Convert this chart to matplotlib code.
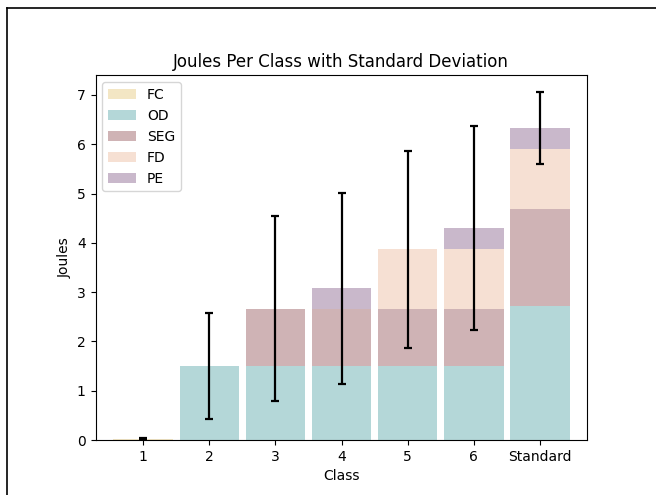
import matplotlib.pyplot as plt
import numpy as np
from matplotlib.lines import Line2D

classes = ['1', '2', '3', '4', '5', '6', 'Standard']
fc = [0.02, 0, 0, 0, 0, 0, 0]
od = [0, 1.5, 1.5, 1.5, 1.5, 1.5, 2.72]
seg = [0, 0, 1.16, 1.16, 1.16, 1.16, 1.96]
fd = [0, 0, 0, 0, 1.21, 1.21, 1.22]
pe = [0, 0, 0, 0.42, 0, 0.43, 0.43]
std = [0.02, 1.08, 1.875, 1.935, 2.0, 2.07, 0.73]

series = [('FC', fc, '#F3E6C4'), ('OD', od, '#B4D7D8'), ('SEG', seg, '#CFB3B5'),
          ('FD', fd, '#F6E0D3'), ('PE', pe, '#C9B8CB')]

fig = plt.figure(figsize=(6.56, 4.95), dpi=100)
ax = fig.add_axes([0.1456, 0.111, 0.7492, 0.737])

x = np.arange(len(classes))
bottom = np.zeros(len(classes))
for name, vals, color in series:
    ax.bar(x, vals, width=0.9, bottom=bottom, color=color, label=name)
    bottom += np.array(vals)

ax.errorbar(x, bottom, yerr=std, fmt='none', ecolor='black', capsize=3, elinewidth=1.6, capthick=1.6)

ax.set_xticks(x)
ax.set_xticklabels(classes)
ax.set_xlim(-0.72, 6.71)
ax.set_ylim(0, 7.4)
ax.set_xlabel('Class')
ax.set_ylabel('Joules')
ax.set_title('Joules Per Class with Standard Deviation')
ax.legend(loc='upper left')

# screenshot frame
fig.add_artist(Line2D([0.011, 0.011], [0, 0.984], color='black', lw=1.2, transform=fig.transFigure))
fig.add_artist(Line2D([0.011, 1], [0.984, 0.984], color='black', lw=1.2, transform=fig.transFigure))

fig.savefig('out.png', dpi=100)
